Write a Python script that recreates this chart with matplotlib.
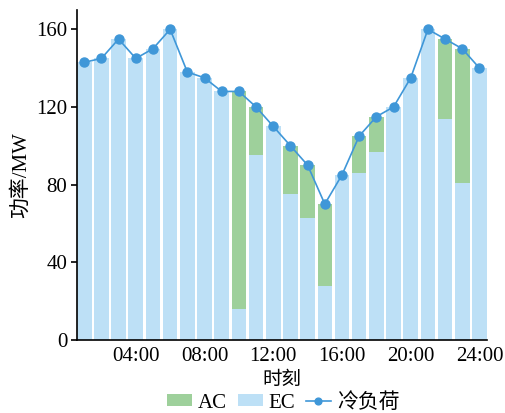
import matplotlib
matplotlib.use("Agg")
import matplotlib.pyplot as plt
import numpy as np

plt.rcParams['font.family'] = ['Liberation Serif', 'Noto Sans CJK SC']
plt.rcParams['mathtext.fontset'] = 'stix'

hours = list(range(1, 25))
load = [143, 145, 155, 145, 150, 160, 138, 135, 128, 128, 120, 110,
        100, 90, 70, 85, 105, 115, 120, 135, 160, 155, 150, 140]
ec = [143, 145, 155, 145, 150, 160, 138, 135, 128, 16, 95, 110,
      75, 63, 28, 85, 86, 97, 120, 135, 160, 114, 81, 140]
ac = [l - e for l, e in zip(load, ec)]
tick_pos = [4, 8, 12, 16, 20, 24]
tick_labels = ['04:00', '08:00', '12:00', '16:00', '20:00', '24:00']
y_ticks = [0, 40, 80, 120, 160]

green = '#9ed09b'
blue = '#bde0f6'
line_c = '#3f97d8'

fig = plt.figure(figsize=(5.06, 4.13), dpi=100)
ax = fig.add_axes([0.152, 0.177, 0.81, 0.799])

w = 0.85
b_ec = ax.bar(hours, ec, width=w, color=blue, label='EC', zorder=2)
b_ac = ax.bar(hours, ac, width=w, bottom=ec, color=green, label='AC', zorder=2)
ln, = ax.plot(hours, load, color=line_c, lw=1.2, marker='o', ms=6.5,
              label='冷负荷', zorder=3)

ax.set_xlim(0.575, 24.425)
ax.set_ylim(0, 170)
ax.set_xticks(tick_pos)
ax.set_xticklabels(tick_labels)
ax.set_yticks(y_ticks)
ax.spines['top'].set_visible(False)
ax.spines['right'].set_visible(False)
ax.spines['left'].set_linewidth(1.2)
ax.spines['bottom'].set_linewidth(1.2)
ax.tick_params(axis='x', direction='in', length=4, width=1.2, labelsize=15, pad=5)
ax.tick_params(axis='y', direction='out', length=4, width=1.2, labelsize=15, pad=3)

ax.set_xlabel('时刻', fontsize=14, labelpad=4)
ax.set_ylabel('功率/MW', fontsize=15, labelpad=4)

fig.legend([b_ac, b_ec, ln], ['AC', 'EC', '冷负荷'], loc='center',
           bbox_to_anchor=(0.56, 0.025), ncol=3, frameon=False, fontsize=15,
           handlelength=1.2, handleheight=0.5, handletextpad=0.3,
           columnspacing=0.5, borderpad=0, borderaxespad=0, markerscale=0.75)

fig.savefig('out.png', dpi=100)
